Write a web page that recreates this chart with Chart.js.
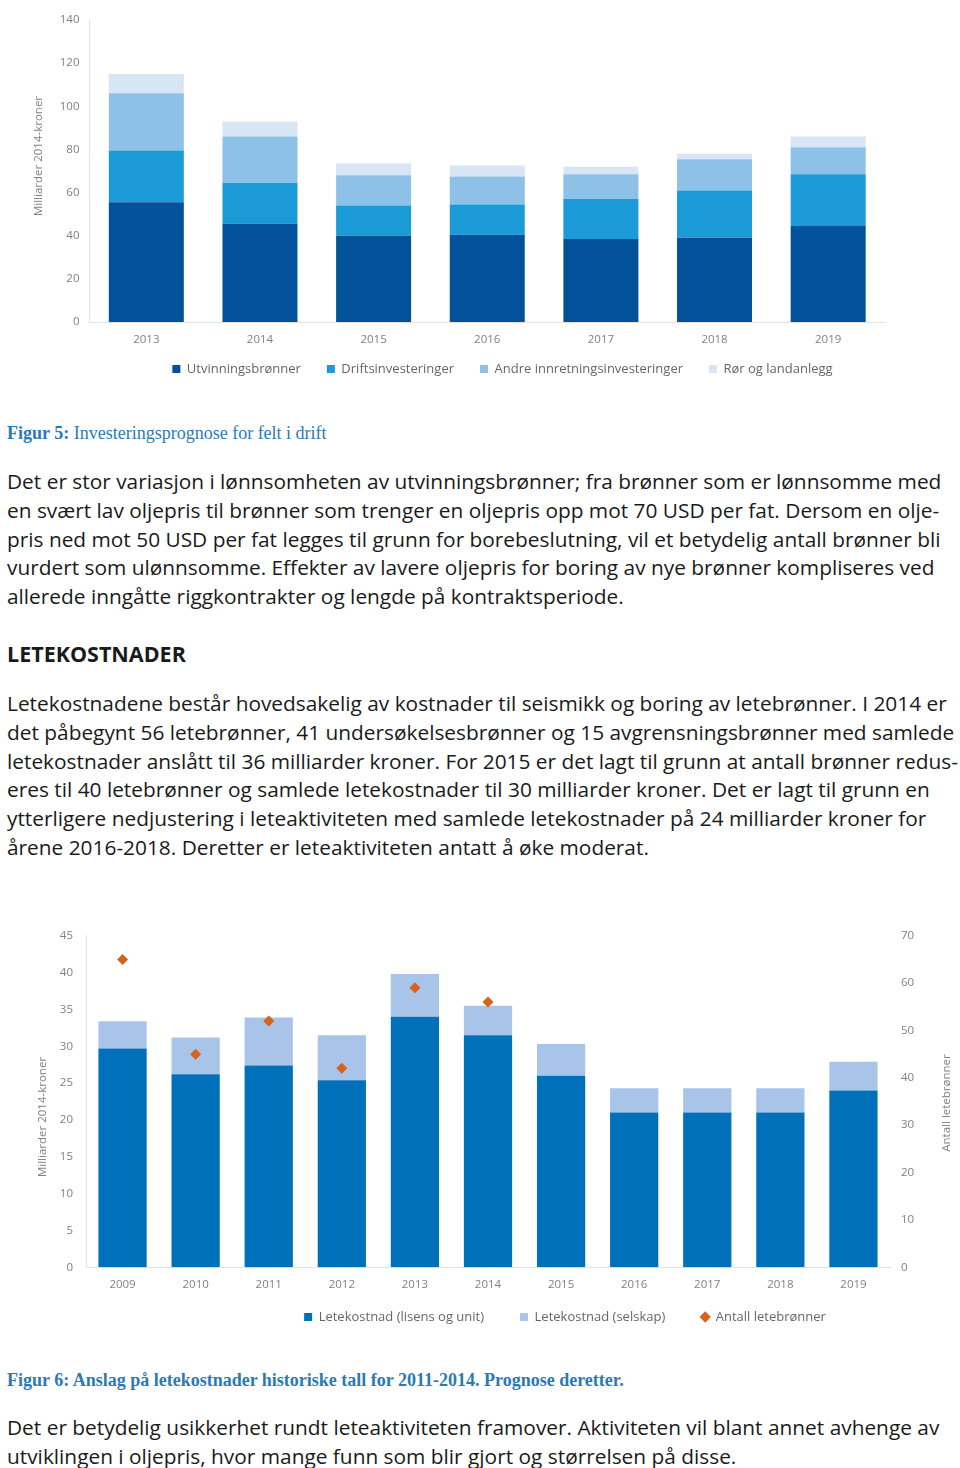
<!DOCTYPE html>
<html>
<head>
<meta charset="utf-8">
<script src="https://cdn.jsdelivr.net/npm/chart.js@4.4.1/dist/chart.umd.min.js"></script>
<style>
    html, body {
        margin: 0;
        padding: 0;
        background: #ffffff;
    }

    body {
        position: relative;
        width: 960px;
        height: 1468px;
        overflow: hidden;
        font-family: "Open Sans", sans-serif;
        color: #1a1a1a;
    }

    .chartBox {
        position: absolute;
        left: 0;
        width: 960px;
    }

    .caption {
        position: absolute;
        left: 7px;
        font-family: "Liberation Serif", serif;
        font-size: 18px;
        line-height: 20px;
        color: #2a7ab5;
        white-space: nowrap;
    }

    .para {
        position: absolute;
        left: 7px;
        font-size: 20.85px;
        line-height: 28.8px;
        white-space: nowrap;
    }

    .heading {
        position: absolute;
        left: 7px;
        font-size: 21.5px;
        line-height: 28.8px;
        font-weight: bold;
    }
</style>
</head>
<body>

<div class="chartBox" style="top:0px;height:401px;">
    <canvas id="investChart" width="960" height="401"></canvas>
</div>

<div class="caption" style="top:423px;">
    <b>Figur 5:</b> Investeringsprognose for felt i drift
</div>

<div class="para" style="top:467px;">
    Det er stor variasjon i lønnsomheten av utvinningsbrønner; fra brønner som er lønnsomme med<br>
    en svært lav oljepris til brønner som trenger en oljepris opp mot 70 USD per fat. Dersom en olje-<br>
    pris ned mot 50 USD per fat legges til grunn for borebeslutning, vil et betydelig antall brønner bli<br>
    vurdert som ulønnsomme. Effekter av lavere oljepris for boring av nye brønner kompliseres ved<br>
    allerede inngåtte riggkontrakter og lengde på kontraktsperiode.
</div>

<div class="heading" style="top:640px;">LETEKOSTNADER</div>

<div class="para" style="top:689px;">
    Letekostnadene består hovedsakelig av kostnader til seismikk og boring av letebrønner. I 2014 er<br>
    det påbegynt 56 letebrønner, 41 undersøkelsesbrønner og 15 avgrensningsbrønner med samlede<br>
    letekostnader anslått til 36 milliarder kroner. For 2015 er det lagt til grunn at antall brønner redus-<br>
    eres til 40 letebrønner og samlede letekostnader til 30 milliarder kroner. Det er lagt til grunn en<br>
    ytterligere nedjustering i leteaktiviteten med samlede letekostnader på 24 milliarder kroner for<br>
    årene 2016-2018. Deretter er leteaktiviteten antatt å øke moderat.
</div>

<div class="chartBox" style="top:920px;height:437px;">
    <canvas id="leteChart" width="960" height="437"></canvas>
</div>

<div class="caption" style="top:1370px;font-weight:bold;">
    Figur 6: Anslag på letekostnader historiske tall for 2011-2014. Prognose deretter.
</div>

<div class="para" style="top:1413px;">
    Det er betydelig usikkerhet rundt leteaktiviteten framover. Aktiviteten vil blant annet avhenge av<br>
    utviklingen i oljepris, hvor mange funn som blir gjort og størrelsen på disse.
</div>

<script>
// Figur 5 - investeringer, milliarder 2014-kroner
const aarInvest = ["2013", "2014", "2015", "2016", "2017", "2018", "2019"];
const utvinningsbronner = [55.5, 45.5, 40, 40.5, 38.5, 39, 44.5];
const driftsinvesteringer = [24, 19, 14, 14, 18.5, 22, 24];
const andreInnretninger = [26.5, 21.5, 14, 13, 11.5, 14.5, 12.5];
const rorOgLandanlegg = [9, 7, 5.5, 5, 3.5, 2.5, 5];

// Figur 6 - letekostnader og antall letebrønner
const aarLete = ["2009", "2010", "2011", "2012", "2013", "2014", "2015", "2016", "2017", "2018", "2019"];
const leteLisens = [29.7, 26.2, 27.4, 25.4, 34, 31.5, 26, 21, 21, 21, 24];
const leteSelskap = [3.7, 5, 6.5, 6.1, 5.8, 4, 4.3, 3.3, 3.3, 3.3, 3.9];
const antallLetebronner = [65, 45, 52, 42, 59, 56, null, null, null, null, null];

const tickFont = { family: "'Open Sans', sans-serif", size: 11.5 };
const legendFont = { family: "'Open Sans', sans-serif", size: 13 };
const tickColor = "#808080";
const axisLine = "#e3e3e3";

// aksetitler tegnes selv for å treffe plasseringen
const axisTitles = {
    id: "axisTitles",
    afterDraw(chart, args, opts) {
        const ctx = chart.ctx;
        ctx.save();
        ctx.font = "11.5px 'Open Sans', sans-serif";
        ctx.fillStyle = tickColor;
        ctx.textAlign = "center";
        ctx.textBaseline = "middle";
        (opts.items || []).forEach(function (t) {
            ctx.save();
            ctx.translate(t.x, t.y);
            ctx.rotate(-Math.PI / 2);
            ctx.fillText(t.text, 0, 0);
            ctx.restore();
        });
        ctx.restore();
    }
};

// flytter legenden litt etter layout
const moveLegend = {
    id: "moveLegend",
    afterLayout(chart, args, opts) {
        const legend = chart.legend;
        legend.left += opts.dx;
        legend.right += opts.dx;
        legend.top += opts.dy;
        legend.bottom += opts.dy;
    }
};

function fixWidth(w) {
    return function (scale) {
        scale.width = w;
    };
}

function fixHeight(h) {
    return function (scale) {
        scale.height = h;
    };
}

new Chart(
    document.getElementById("investChart"),
    {
        type: "bar",
        data: {
            labels: aarInvest,
            datasets: [
                {
                    label: "Utvinningsbrønner",
                    data: utvinningsbronner,
                    backgroundColor: "#01529b"
                },
                {
                    label: "Driftsinvesteringer",
                    data: driftsinvesteringer,
                    backgroundColor: "#1a9bd7"
                },
                {
                    label: "Andre innretningsinvesteringer",
                    data: andreInnretninger,
                    backgroundColor: "#8ec1e7"
                },
                {
                    label: "Rør og landanlegg",
                    data: rorOgLandanlegg,
                    backgroundColor: "#d7e5f5"
                }
            ]
        },
        options: {
            responsive: false,
            animation: false,
            barPercentage: 0.66,
            categoryPercentage: 1,
            layout: {
                padding: { top: 20, right: 75, bottom: 0, left: 0 }
            },
            plugins: {
                tooltip: { enabled: false },
                legend: {
                    position: "bottom",
                    labels: {
                        font: legendFont,
                        color: "#666666",
                        usePointStyle: true,
                        pointStyle: "rect",
                        boxWidth: 8,
                        boxHeight: 8,
                        padding: 26
                    }
                },
                moveLegend: { dx: 60, dy: -15.5 },
                axisTitles: {
                    items: [
                        { text: "Milliarder 2014-kroner", x: 39, y: 156 }
                    ]
                }
            },
            scales: {
                x: {
                    stacked: true,
                    grid: { display: false },
                    border: { display: true, color: axisLine },
                    ticks: { font: tickFont, color: tickColor, padding: 3 },
                    afterFit: fixHeight(30)
                },
                y: {
                    stacked: true,
                    min: 0,
                    max: 140,
                    grid: { display: false, tickLength: 7 },
                    border: { display: true, color: axisLine },
                    ticks: { stepSize: 20, font: tickFont, color: tickColor, padding: 3 },
                    afterFit: fixWidth(89.5)
                }
            }
        },
        plugins: [axisTitles, moveLegend]
    }
);

new Chart(
    document.getElementById("leteChart"),
    {
        type: "bar",
        data: {
            labels: aarLete,
            datasets: [
                {
                    label: "Letekostnad (lisens og unit)",
                    data: leteLisens,
                    backgroundColor: "#0070ba",
                    pointStyle: "rect",
                    yAxisID: "y",
                    order: 2
                },
                {
                    label: "Letekostnad (selskap)",
                    data: leteSelskap,
                    backgroundColor: "#a8c5e9",
                    pointStyle: "rect",
                    yAxisID: "y",
                    order: 2
                },
                {
                    type: "line",
                    label: "Antall letebrønner",
                    data: antallLetebronner,
                    yAxisID: "y1",
                    showLine: false,
                    pointStyle: "rectRot",
                    pointRadius: 5.5,
                    backgroundColor: "#d8621c",
                    borderColor: "#d8621c",
                    borderWidth: 0,
                    order: 1
                }
            ]
        },
        options: {
            responsive: false,
            animation: false,
            barPercentage: 0.66,
            categoryPercentage: 1,
            layout: {
                padding: { top: 15.7, right: 0, bottom: 0.7, left: 0 }
            },
            plugins: {
                tooltip: { enabled: false },
                legend: {
                    position: "bottom",
                    labels: {
                        font: legendFont,
                        color: "#666666",
                        usePointStyle: true,
                        boxWidth: 8,
                        boxHeight: 8,
                        padding: 36,
                        sort: function (a, b) {
                            return a.datasetIndex - b.datasetIndex;
                        }
                    }
                },
                moveLegend: { dx: 85, dy: -22.8 },
                axisTitles: {
                    items: [
                        { text: "Milliarder 2014-kroner", x: 43, y: 197 },
                        { text: "Antall letebrønner", x: 947, y: 183 }
                    ]
                }
            },
            scales: {
                x: {
                    stacked: true,
                    grid: { display: false },
                    border: { display: true, color: axisLine },
                    ticks: { font: tickFont, color: tickColor, padding: 3 },
                    afterFit: fixHeight(30)
                },
                y: {
                    stacked: true,
                    position: "left",
                    min: 0,
                    max: 45,
                    grid: { display: false, tickLength: 10 },
                    border: { display: true, color: axisLine },
                    ticks: { stepSize: 5, font: tickFont, color: tickColor, padding: 3 },
                    afterFit: fixWidth(86)
                },
                y1: {
                    position: "right",
                    min: 0,
                    max: 70,
                    grid: { display: false, tickLength: 8 },
                    border: { display: false },
                    ticks: { stepSize: 10, font: tickFont, color: tickColor, padding: 3 },
                    afterFit: fixWidth(70)
                }
            }
        },
        plugins: [axisTitles, moveLegend]
    }
);
</script>
</body>
</html>
